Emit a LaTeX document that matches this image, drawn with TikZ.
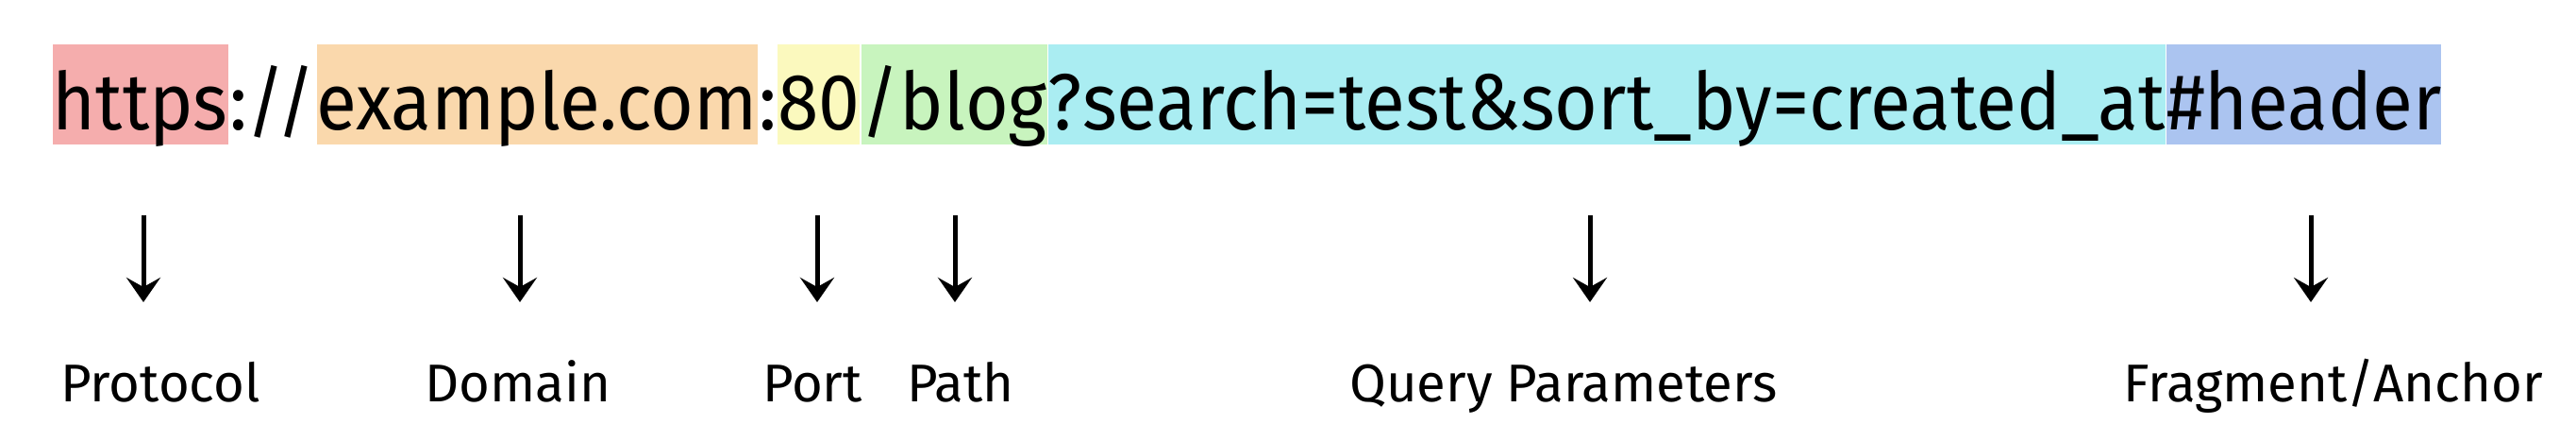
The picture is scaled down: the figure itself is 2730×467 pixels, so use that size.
\documentclass[tikz,border=0pt]{standalone}
\usepackage{fontspec}
\setmainfont{Fira Sans}
\newfontfamily\urlfont[FakeStretch=0.93]{Fira Sans}
\usetikzlibrary{arrows.meta,positioning}

\definecolor{protobg}{RGB}{245,173,173}
\definecolor{domainbg}{RGB}{250,216,172}
\definecolor{portbg}{RGB}{251,249,190}
\definecolor{pathbg}{RGB}{200,244,190}
\definecolor{querybg}{RGB}{170,237,242}
\definecolor{fragbg}{RGB}{171,196,240}

\tikzset{
  part/.style={inner xsep=0pt, inner ysep=0pt, anchor=base west,
    text height=0.91cm, text depth=0.15cm, font=\urlfont\fontsize{24}{28}\selectfont},
  lbl/.style={anchor=base, font=\fontsize{16}{19}\selectfont},
  pointer/.style={line width=0.05cm, -{Stealth[length=0.26cm, width=0.36cm, inset=0.1cm]}}
}

\begin{document}
\begin{tikzpicture}[x=0.01cm, y=-0.01cm]
  \useasboundingbox (0,0) rectangle (2730,467);
  % the URL, piece by piece
  \node[part, fill=protobg] (proto) at (55,138) {https};
  \node[part] (slashes) at (proto.base east) {://};
  \node[part, fill=domainbg] (domain) at (slashes.base east) {example.com};
  \node[part] (colon) at (domain.base east) {:};
  \node[part, fill=portbg] (port) at (colon.base east) {80};
  \node[part, fill=pathbg] (path) at (port.base east) {/blog};
  \node[part, fill=querybg] (query) at (path.base east) {?search=test\&sort\_by=created\_at};
  \node[part, fill=fragbg] (frag) at (query.base east) {\#header};
  % labels
  \node[lbl] (lproto) at (170,425) {Protocol};
  \node[lbl] (ldomain) at (549,425) {Domain};
  \node[lbl] (lport) at (861,425) {Port};
  \node[lbl] (lpath) at (1018,425) {Path};
  \node[lbl] (lquery) at (1657,425) {Query Parameters};
  \node[lbl] (lfrag) at (2473,425) {Fragment/Anchor};
  % arrows
  \coordinate (t1) at (152,228);  \coordinate (h1) at (152,320);
  \coordinate (t2) at (551,228);  \coordinate (h2) at (551,320);
  \coordinate (t3) at (866,228);  \coordinate (h3) at (866,320);
  \coordinate (t4) at (1012,228); \coordinate (h4) at (1012,320);
  \coordinate (t5) at (1685,228); \coordinate (h5) at (1685,320);
  \coordinate (t6) at (2449,228); \coordinate (h6) at (2449,320);
  \draw[pointer] (t1) -- (h1);
  \draw[pointer] (t2) -- (h2);
  \draw[pointer] (t3) -- (h3);
  \draw[pointer] (t4) -- (h4);
  \draw[pointer] (t5) -- (h5);
  \draw[pointer] (t6) -- (h6);
\end{tikzpicture}
\end{document}
